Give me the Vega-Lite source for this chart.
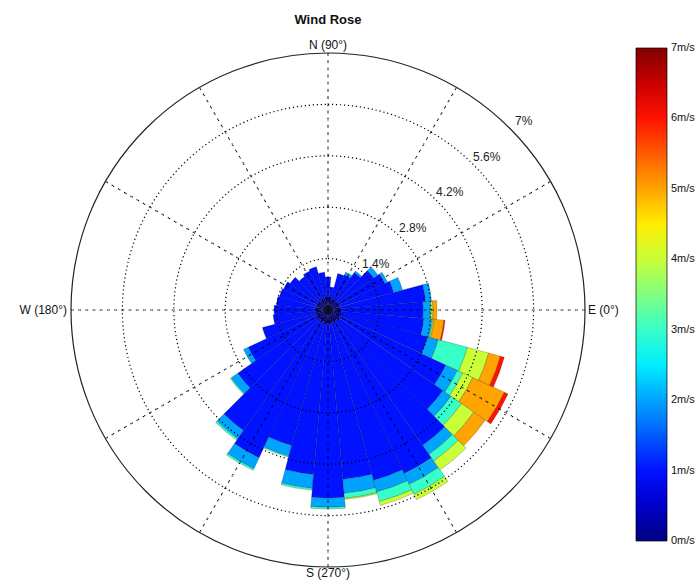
{
  "$schema": "https://vega.github.io/schema/vega-lite/v6.json",
  "width": 514,
  "height": 514,
  "autosize": {"type": "none"},
  "padding": {"left": 71, "top": 53, "right": 112, "bottom": 14},
  "background": "white",
  "title": {"text": "Wind Rose", "fontSize": 13, "fontWeight": "bold", "font": "Liberation Sans", "offset": 12, "anchor": "middle", "color": "#111"},
  "config": {"view": {"stroke": null}, "font": "Liberation Sans"},
  "layer": [
    {
      "data": {"values": [
        {"dir":0,"d0":-5,"d1":5,"spd":0,"f":0.36},{"dir":0,"d0":-5,"d1":5,"spd":1,"f":2.23},{"dir":0,"d0":-5,"d1":5,"spd":2,"f":0.19},{"dir":0,"d0":-5,"d1":5,"spd":3,"f":0.03},{"dir":0,"d0":-5,"d1":5,"spd":4,"f":0.05},{"dir":0,"d0":-5,"d1":5,"spd":5,"f":0.11},
        {"dir":10,"d0":5,"d1":15,"spd":0,"f":0.30},{"dir":10,"d0":5,"d1":15,"spd":1,"f":2.37},{"dir":10,"d0":5,"d1":15,"spd":2,"f":0.16},
        {"dir":20,"d0":15,"d1":25,"spd":0,"f":0.33},{"dir":20,"d0":15,"d1":25,"spd":1,"f":1.52},{"dir":20,"d0":15,"d1":25,"spd":2,"f":0.25},
        {"dir":30,"d0":25,"d1":35,"spd":0,"f":0.28},{"dir":30,"d0":25,"d1":35,"spd":1,"f":1.43},{"dir":30,"d0":25,"d1":35,"spd":2,"f":0.08},
        {"dir":40,"d0":35,"d1":45,"spd":0,"f":0.34},{"dir":40,"d0":35,"d1":45,"spd":1,"f":1.18},{"dir":40,"d0":35,"d1":45,"spd":2,"f":0.14},
        {"dir":50,"d0":45,"d1":55,"spd":0,"f":0.29},{"dir":50,"d0":45,"d1":55,"spd":1,"f":0.96},{"dir":50,"d0":45,"d1":55,"spd":2,"f":0.05},
        {"dir":60,"d0":55,"d1":65,"spd":0,"f":0.32},{"dir":60,"d0":55,"d1":65,"spd":1,"f":0.74},{"dir":60,"d0":55,"d1":65,"spd":2,"f":0.08},
        {"dir":70,"d0":65,"d1":75,"spd":0,"f":0.30},{"dir":70,"d0":65,"d1":75,"spd":1,"f":0.73},
        {"dir":80,"d0":75,"d1":85,"spd":0,"f":0.36},{"dir":80,"d0":75,"d1":85,"spd":1,"f":0.27},
        {"dir":90,"d0":85,"d1":95,"spd":0,"f":0.33},{"dir":90,"d0":85,"d1":95,"spd":1,"f":0.57},
        {"dir":100,"d0":95,"d1":105,"spd":0,"f":0.38},{"dir":100,"d0":95,"d1":105,"spd":1,"f":0.65},
        {"dir":110,"d0":105,"d1":115,"spd":0,"f":0.31},{"dir":110,"d0":105,"d1":115,"spd":1,"f":0.91},
        {"dir":120,"d0":115,"d1":125,"spd":0,"f":0.34},{"dir":120,"d0":115,"d1":125,"spd":1,"f":0.83},
        {"dir":130,"d0":125,"d1":135,"spd":0,"f":0.30},{"dir":130,"d0":125,"d1":135,"spd":1,"f":0.81},
        {"dir":140,"d0":135,"d1":145,"spd":0,"f":0.35},{"dir":140,"d0":135,"d1":145,"spd":1,"f":0.91},
        {"dir":150,"d0":145,"d1":155,"spd":0,"f":0.29},{"dir":150,"d0":145,"d1":155,"spd":1,"f":1.05},
        {"dir":160,"d0":155,"d1":165,"spd":0,"f":0.33},{"dir":160,"d0":155,"d1":165,"spd":1,"f":1.04},
        {"dir":170,"d0":165,"d1":175,"spd":0,"f":0.30},{"dir":170,"d0":165,"d1":175,"spd":1,"f":1.11},
        {"dir":180,"d0":175,"d1":185,"spd":0,"f":0.36},{"dir":180,"d0":175,"d1":185,"spd":1,"f":1.11},
        {"dir":190,"d0":185,"d1":195,"spd":0,"f":0.31},{"dir":190,"d0":185,"d1":195,"spd":1,"f":1.19},
        {"dir":200,"d0":195,"d1":205,"spd":0,"f":0.36},{"dir":200,"d0":195,"d1":205,"spd":1,"f":1.49},
        {"dir":210,"d0":205,"d1":215,"spd":0,"f":0.32},{"dir":210,"d0":205,"d1":215,"spd":1,"f":2.08},{"dir":210,"d0":205,"d1":215,"spd":2,"f":0.14},
        {"dir":220,"d0":215,"d1":225,"spd":0,"f":0.37},{"dir":220,"d0":215,"d1":225,"spd":1,"f":2.63},{"dir":220,"d0":215,"d1":225,"spd":2,"f":0.22},{"dir":220,"d0":215,"d1":225,"spd":3,"f":0.03},
        {"dir":230,"d0":225,"d1":235,"spd":0,"f":0.33},{"dir":230,"d0":225,"d1":235,"spd":1,"f":3.68},{"dir":230,"d0":225,"d1":235,"spd":2,"f":0.27},{"dir":230,"d0":225,"d1":235,"spd":3,"f":0.05},
        {"dir":240,"d0":235,"d1":245,"spd":0,"f":0.38},{"dir":240,"d0":235,"d1":245,"spd":1,"f":4.06},{"dir":240,"d0":235,"d1":245,"spd":2,"f":0.33},{"dir":240,"d0":235,"d1":245,"spd":3,"f":0.05},
        {"dir":250,"d0":245,"d1":255,"spd":0,"f":0.33},{"dir":250,"d0":245,"d1":255,"spd":1,"f":3.49},{"dir":250,"d0":245,"d1":255,"spd":2,"f":0.30},{"dir":250,"d0":245,"d1":255,"spd":3,"f":0.03},
        {"dir":260,"d0":255,"d1":265,"spd":0,"f":0.40},{"dir":260,"d0":255,"d1":265,"spd":1,"f":4.10},{"dir":260,"d0":255,"d1":265,"spd":2,"f":0.38},{"dir":260,"d0":255,"d1":265,"spd":3,"f":0.05},
        {"dir":270,"d0":265,"d1":275,"spd":0,"f":0.36},{"dir":270,"d0":265,"d1":275,"spd":1,"f":4.76},{"dir":270,"d0":265,"d1":275,"spd":2,"f":0.25},{"dir":270,"d0":265,"d1":275,"spd":3,"f":0.05},
        {"dir":280,"d0":275,"d1":285,"spd":0,"f":0.40},{"dir":280,"d0":275,"d1":285,"spd":1,"f":4.23},{"dir":280,"d0":275,"d1":285,"spd":2,"f":0.38},{"dir":280,"d0":275,"d1":285,"spd":3,"f":0.14},{"dir":280,"d0":275,"d1":285,"spd":4,"f":0.03},
        {"dir":290,"d0":285,"d1":295,"spd":0,"f":0.34},{"dir":290,"d0":285,"d1":295,"spd":1,"f":4.46},{"dir":290,"d0":285,"d1":295,"spd":2,"f":0.33},{"dir":290,"d0":285,"d1":295,"spd":3,"f":0.27},{"dir":290,"d0":285,"d1":295,"spd":4,"f":0.11},
        {"dir":300,"d0":295,"d1":305,"spd":0,"f":0.40},{"dir":300,"d0":295,"d1":305,"spd":1,"f":4.51},{"dir":300,"d0":295,"d1":305,"spd":2,"f":0.33},{"dir":300,"d0":295,"d1":305,"spd":3,"f":0.30},{"dir":300,"d0":295,"d1":305,"spd":4,"f":0.16},
        {"dir":310,"d0":305,"d1":315,"spd":0,"f":0.35},{"dir":310,"d0":305,"d1":315,"spd":1,"f":4.15},{"dir":310,"d0":305,"d1":315,"spd":2,"f":0.30},{"dir":310,"d0":305,"d1":315,"spd":3,"f":0.22},{"dir":310,"d0":305,"d1":315,"spd":4,"f":0.30},
        {"dir":320,"d0":315,"d1":325,"spd":0,"f":0.40},{"dir":320,"d0":315,"d1":325,"spd":1,"f":3.42},{"dir":320,"d0":315,"d1":325,"spd":2,"f":0.27},{"dir":320,"d0":315,"d1":325,"spd":3,"f":0.35},{"dir":320,"d0":315,"d1":325,"spd":4,"f":0.41},{"dir":320,"d0":315,"d1":325,"spd":5,"f":0.38},
        {"dir":330,"d0":325,"d1":335,"spd":0,"f":0.35},{"dir":330,"d0":325,"d1":335,"spd":1,"f":3.19},{"dir":330,"d0":325,"d1":335,"spd":2,"f":0.35},{"dir":330,"d0":325,"d1":335,"spd":3,"f":0.16},{"dir":330,"d0":325,"d1":335,"spd":4,"f":0.30},{"dir":330,"d0":325,"d1":335,"spd":5,"f":0.95},{"dir":330,"d0":325,"d1":335,"spd":6,"f":0.11},
        {"dir":340,"d0":335,"d1":345,"spd":0,"f":0.40},{"dir":340,"d0":335,"d1":345,"spd":1,"f":2.41},{"dir":340,"d0":335,"d1":345,"spd":2,"f":0.30},{"dir":340,"d0":335,"d1":345,"spd":3,"f":0.82},{"dir":340,"d0":335,"d1":345,"spd":4,"f":0.60},{"dir":340,"d0":335,"d1":345,"spd":5,"f":0.33},{"dir":340,"d0":335,"d1":345,"spd":6,"f":0.11},
        {"dir":350,"d0":345,"d1":355,"spd":0,"f":0.33},{"dir":350,"d0":345,"d1":355,"spd":1,"f":2.29},{"dir":350,"d0":345,"d1":355,"spd":2,"f":0.22},{"dir":350,"d0":345,"d1":355,"spd":3,"f":0.03},{"dir":350,"d0":345,"d1":355,"spd":4,"f":0.03},{"dir":350,"d0":345,"d1":355,"spd":5,"f":0.27},{"dir":350,"d0":345,"d1":355,"spd":6,"f":0.03}
      ]},
      "transform": [{"stack": "f", "groupby": ["dir"], "sort": [{"field": "spd", "order": "ascending"}], "as": ["r0", "r1"]}],
      "mark": {"type": "arc", "stroke": "#000", "strokeOpacity": 0.4, "strokeWidth": 0.5},
      "encoding": {
        "theta": {"field": "d0", "type": "quantitative", "stack": null, "scale": {"type": "linear", "domain": [90, -270], "range": [0, 6.283185307179586], "zero": false, "nice": false}},
        "theta2": {"field": "d1"},
        "radius": {"field": "r1", "type": "quantitative", "stack": null, "scale": {"type": "linear", "domain": [0, 7], "range": [0, 257], "zero": true, "nice": false}},
        "radius2": {"field": "r0"},
        "color": {
          "field": "spd", "type": "quantitative",
          "scale": {"domain": [0, 0.875, 2.625, 4.375, 6.125, 7], "range": ["#000080", "#0000ff", "#00ffff", "#ffff00", "#ff0000", "#800000"], "interpolate": "rgb"},
          "legend": {"title": null, "orient": "none", "legendX": 565, "legendY": -5, "direction": "vertical", "gradientLength": 493, "gradientThickness": 31, "gradientStrokeColor": "#000", "gradientStrokeWidth": 0.7, "values": [0, 1, 2, 3, 4, 5, 6, 7], "labelExpr": "datum.value + 'm/s'", "labelFontSize": 11, "labelFont": "Liberation Sans", "labelColor": "#111", "labelOffset": 4, "labelBaseline": "middle", "labelOverlap": false, "padding": 0,
            "encode": {"labels": {"update": {"baseline": {"value": "middle"}}}}}
        }
      }
    },
    {
      "data": {"values": [{"r": 1.4}, {"r": 2.8}, {"r": 4.2}, {"r": 5.6}]},
      "mark": {"type": "arc", "fillOpacity": 0, "stroke": "#000", "strokeWidth": 1.2, "strokeDash": [1.2, 2.8]},
      "encoding": {
        "radius": {"field": "r", "type": "quantitative", "stack": null, "scale": {"type": "linear", "domain": [0, 7], "range": [0, 257], "zero": true, "nice": false}},
        "theta": {"value": 0},
        "theta2": {"value": 6.2832}
      }
    },
    {
      "data": {"values": [{"a": 0}, {"a": 30}, {"a": 60}, {"a": 90}, {"a": 120}, {"a": 150}, {"a": 180}, {"a": 210}, {"a": 240}, {"a": 270}, {"a": 300}, {"a": 330}]},
      "mark": {"type": "arc", "fillOpacity": 0, "stroke": "#000", "strokeWidth": 1.1, "strokeDash": [1.2, 6]},
      "encoding": {
        "theta": {"field": "a", "type": "quantitative", "stack": null, "scale": {"type": "linear", "domain": [90, -270], "range": [0, 6.283185307179586], "zero": false, "nice": false}},
        "theta2": {"field": "a"},
        "radius": {"datum": 7, "type": "quantitative", "stack": null, "scale": {"type": "linear", "domain": [0, 7], "range": [0, 257], "zero": true, "nice": false}}
      }
    },
    {
      "data": {"values": [{"r": 7}]},
      "mark": {"type": "arc", "fillOpacity": 0, "stroke": "#222", "strokeWidth": 1.2},
      "encoding": {
        "radius": {"field": "r", "type": "quantitative", "stack": null, "scale": {"type": "linear", "domain": [0, 7], "range": [0, 257], "zero": true, "nice": false}},
        "theta": {"value": 0},
        "theta2": {"value": 6.2832}
      }
    },
    {
      "data": {"values": [{"r": 1.4, "lab": "1.4%"}, {"r": 2.8, "lab": "2.8%"}, {"r": 4.2, "lab": "4.2%"}, {"r": 5.6, "lab": "5.6%"}, {"r": 7, "lab": "7%"}]},
      "mark": {"type": "text", "radiusOffset": 15, "fontSize": 12, "font": "Liberation Sans", "color": "#222"},
      "encoding": {
        "theta": {"datum": 44, "type": "quantitative", "stack": null, "scale": {"type": "linear", "domain": [90, -270], "range": [0, 6.283185307179586], "zero": false, "nice": false}},
        "radius": {"field": "r", "type": "quantitative", "stack": null, "scale": {"type": "linear", "domain": [0, 7], "range": [0, 257], "zero": true, "nice": false}},
        "text": {"field": "lab"}
      }
    },
    {
      "data": {"values": [{"a": 90, "r": 7, "lab": "N (90°)"}]},
      "mark": {"type": "text", "radiusOffset": 1, "baseline": "bottom", "align": "center", "fontSize": 12, "font": "Liberation Sans", "color": "#111"},
      "encoding": {
        "theta": {"field": "a", "type": "quantitative", "stack": null, "scale": {"type": "linear", "domain": [90, -270], "range": [0, 6.283185307179586], "zero": false, "nice": false}},
        "radius": {"field": "r", "type": "quantitative", "stack": null, "scale": {"type": "linear", "domain": [0, 7], "range": [0, 257], "zero": true, "nice": false}},
        "text": {"field": "lab"}
      }
    },
    {
      "data": {"values": [{"a": 270, "r": 7, "lab": "S (270°)"}]},
      "mark": {"type": "text", "radiusOffset": 1, "baseline": "top", "align": "center", "fontSize": 12, "font": "Liberation Sans", "color": "#111"},
      "encoding": {
        "theta": {"field": "a", "type": "quantitative", "stack": null, "scale": {"type": "linear", "domain": [90, -270], "range": [0, 6.283185307179586], "zero": false, "nice": false}},
        "radius": {"field": "r", "type": "quantitative", "stack": null, "scale": {"type": "linear", "domain": [0, 7], "range": [0, 257], "zero": true, "nice": false}},
        "text": {"field": "lab"}
      }
    },
    {
      "data": {"values": [{"a": 0, "r": 7, "lab": "E (0°)"}]},
      "mark": {"type": "text", "radiusOffset": 3, "baseline": "middle", "align": "left", "fontSize": 12, "font": "Liberation Sans", "color": "#111"},
      "encoding": {
        "theta": {"field": "a", "type": "quantitative", "stack": null, "scale": {"type": "linear", "domain": [90, -270], "range": [0, 6.283185307179586], "zero": false, "nice": false}},
        "radius": {"field": "r", "type": "quantitative", "stack": null, "scale": {"type": "linear", "domain": [0, 7], "range": [0, 257], "zero": true, "nice": false}},
        "text": {"field": "lab"}
      }
    },
    {
      "data": {"values": [{"a": 180, "r": 7, "lab": "W (180°)"}]},
      "mark": {"type": "text", "radiusOffset": 4, "baseline": "middle", "align": "right", "fontSize": 12, "font": "Liberation Sans", "color": "#111"},
      "encoding": {
        "theta": {"field": "a", "type": "quantitative", "stack": null, "scale": {"type": "linear", "domain": [90, -270], "range": [0, 6.283185307179586], "zero": false, "nice": false}},
        "radius": {"field": "r", "type": "quantitative", "stack": null, "scale": {"type": "linear", "domain": [0, 7], "range": [0, 257], "zero": true, "nice": false}},
        "text": {"field": "lab"}
      }
    }
  ]
}
